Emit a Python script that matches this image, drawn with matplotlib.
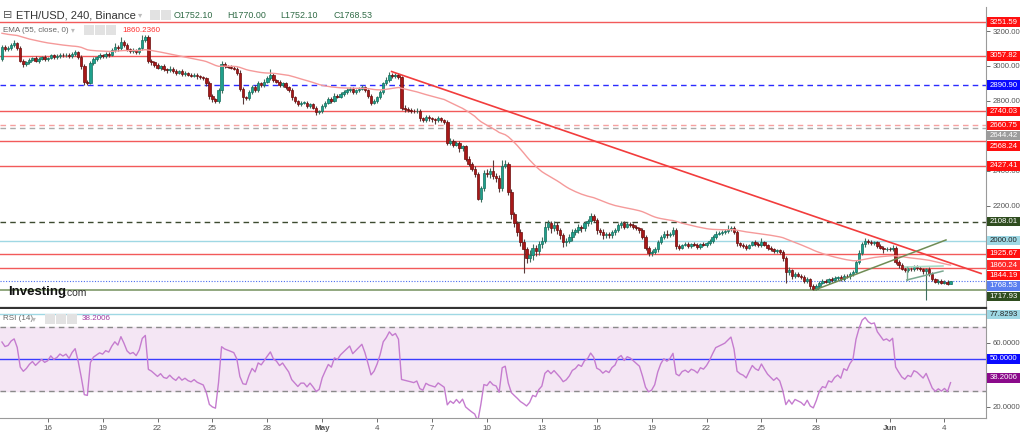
import numpy as np
import pandas as pd
import matplotlib
matplotlib.use('Agg')
import matplotlib.pyplot as plt
import matplotlib.dates as mdates
from matplotlib.patches import Rectangle

plt.rcParams['font.family'] = ['Liberation Sans', 'DejaVu Sans']

# 4h candles ETH/USD (Binance), first candle 13 Apr 12:00
start = '2022-04-13 12:00'
first_open = 3040.0
closes = [
    3110, 3095, 3100,                              # Apr 13
    3120, 3130, 3105, 3030, 3010, 3020,            # Apr 14
    3035, 3045, 3030, 3040, 3050, 3040,            # Apr 15
    3045, 3060, 3050, 3055, 3065, 3060,            # Apr 16
    3065, 3055, 3070, 3080, 3050, 3000,            # Apr 17
    2910, 2905, 3015, 3040, 3050, 3060,            # Apr 18
    3055, 3070, 3065, 3090, 3110, 3100,            # Apr 19
    3140, 3120, 3095, 3085, 3090, 3080,            # Apr 20
    3100, 3150, 3165, 3030, 3020, 3005,            # Apr 21
    2990, 3000, 2980, 2975, 2985, 2970,            # Apr 22
    2960, 2970, 2955, 2960, 2950, 2945,            # Apr 23
    2950, 2940, 2935, 2930, 2900, 2830,            # Apr 24
    2810, 2800, 2860, 3010, 3000, 2995,            # Apr 25
    2990, 2985, 2960, 2870, 2820, 2815,            # Apr 26
    2850, 2880, 2860, 2900, 2890, 2910,            # Apr 27
    2930, 2950, 2920, 2910, 2890, 2900,            # Apr 28
    2880, 2860, 2820, 2800, 2780, 2790,            # Apr 29
    2790, 2770, 2780, 2760, 2735, 2740,            # Apr 30
    2770, 2790, 2810, 2800, 2830, 2825,            # May 1
    2840, 2850, 2860, 2870, 2850, 2860,            # May 2
    2870, 2880, 2860, 2830, 2790, 2800,            # May 3
    2820, 2850, 2900, 2920, 2950, 2940,            # May 4
    2950, 2935, 2760, 2755, 2750, 2745,            # May 5
    2740, 2745, 2700, 2690, 2710, 2700,            # May 6
    2695, 2690, 2700, 2690, 2680, 2560,            # May 7
    2570, 2550, 2560, 2530, 2540, 2470,            # May 8
    2440, 2410, 2380, 2240, 2300, 2390,            # May 9
    2380, 2400, 2370, 2360, 2300, 2430,            # May 10
    2440, 2280, 2150, 2100, 2050, 1990,            # May 11
    1950, 1900, 1920, 1960, 1940, 1980,            # May 12
    2000, 2080, 2100, 2070, 2090, 2060,            # May 13
    2030, 1990, 2000, 2020, 2050, 2060,            # May 14
    2080, 2070, 2100, 2110, 2140, 2120,            # May 15
    2060, 2050, 2030, 2040, 2030, 2050,            # May 16
    2060, 2090, 2100, 2080, 2095, 2090,            # May 17
    2080, 2070, 2060, 2020, 1960, 1930,            # May 18
    1935, 1950, 1990, 2020, 2040, 2030,            # May 19
    2040, 2060, 1970, 1960, 1975, 1980,            # May 20
    1970, 1980, 1975, 1965, 1980, 1975,            # May 21
    1985, 2000, 2020, 2040, 2045, 2050,            # May 22
    2055, 2065, 2075, 2050, 1985, 1975,            # May 23
    1970, 1960, 1975, 1990, 1980, 1975,            # May 24
    1990, 1975, 1960, 1950, 1940, 1945,            # May 25
    1935, 1900, 1820, 1830, 1800, 1810,            # May 26
    1800, 1790, 1770, 1780, 1740, 1725,            # May 27
    1740, 1760, 1770, 1765, 1780, 1775,            # May 28
    1785, 1790, 1780, 1800, 1795, 1810,            # May 29
    1820, 1880, 1930, 1980, 2000, 1990,            # May 30
    1985, 1990, 1970, 1960, 1950, 1955,            # May 31
    1950, 1960, 1880, 1860, 1840, 1830,            # Jun 1
    1840, 1835, 1850, 1845, 1835, 1825,            # Jun 2
    1835, 1810, 1780, 1765, 1770, 1760,            # Jun 3
    1765, 1752.10, 1768.53,                        # Jun 4
]
wick_hi = [
    10, 8, 12,
    10, 20, 8, 10, 12, 8,
    10, 8, 12, 10, 8, 10,
    8, 10, 8, 12, 10, 8,
    10, 8, 12, 10, 8, 10,
    12, 10, 15, 10, 8, 12,
    10, 12, 8, 10, 20, 10,
    25, 10, 12, 8, 10, 8,
    10, 30, 15, 12, 10, 8,
    12, 8, 10, 8, 12, 10,
    10, 8, 10, 12, 8, 10,
    8, 10, 8, 10, 8, 12,
    10, 8, 12, 20, 10, 8,
    12, 10, 8, 15, 10, 8,
    15, 12, 10, 12, 10, 15,
    10, 30, 10, 8, 12, 10,
    10, 8, 12, 10, 8, 10,
    10, 12, 8, 10, 8, 10,
    10, 8, 12, 10, 15, 10,
    12, 10, 15, 10, 8, 10,
    12, 10, 8, 10, 8, 12,
    10, 12, 10, 15, 15, 10,
    10, 12, 8, 15, 10, 8,
    10, 12, 8, 10, 12, 8,
    10, 8, 12, 10, 8, 10,
    15, 10, 12, 10, 8, 10,
    12, 10, 15, 12, 10, 15,
    20, 15, 60, 20, 15, 30,
    20, 10, 15, 12, 10, 15,
    20, 15, 25, 20, 15, 20,
    20, 25, 20, 15, 20, 15,
    15, 12, 15, 20, 15, 12,
    15, 12, 15, 12, 20, 15,
    12, 10, 15, 12, 10, 12,
    15, 12, 15, 10, 12, 10,
    10, 12, 10, 15, 10, 12,
    10, 15, 12, 10, 15, 20,
    10, 20, 12, 10, 8, 10,
    10, 8, 12, 10, 8, 10,
    10, 12, 10, 15, 12, 10,
    10, 25, 10, 8, 12, 10,
    10, 12, 8, 10, 12, 10,
    25, 10, 8, 10, 8, 10,
    10, 12, 15, 20, 10, 12,
    10, 8, 12, 10, 8, 10,
    10, 8, 12, 10, 8, 10,
    10, 8, 12, 10, 8, 10,
    10, 12, 15, 12, 15, 10,
    12, 10, 8, 10, 8, 10,
    10, 15, 10, 8, 10, 8,
    10, 12, 10, 12, 8, 10,
    10, 12, 10, 8, 10, 12,
    10, 8, 1.47,
]
wick_lo = [
    10, 12, 8,
    8, 10, 12, 10, 15, 10,
    10, 8, 10, 12, 8, 10,
    10, 8, 12, 10, 8, 10,
    8, 10, 8, 12, 10, 15,
    20, 15, 10, 8, 10, 8,
    10, 8, 12, 10, 8, 12,
    8, 10, 12, 10, 8, 10,
    10, 8, 10, 15, 12, 10,
    10, 12, 10, 15, 10, 12,
    10, 8, 12, 10, 8, 10,
    10, 12, 8, 10, 15, 20,
    15, 10, 10, 12, 10, 8,
    10, 8, 12, 15, 40, 10,
    10, 12, 10, 8, 12, 10,
    10, 12, 10, 8, 10, 12,
    10, 8, 12, 10, 12, 10,
    10, 12, 10, 8, 15, 10,
    10, 8, 10, 12, 8, 10,
    10, 12, 8, 10, 12, 10,
    10, 8, 10, 12, 15, 10,
    12, 10, 8, 10, 12, 10,
    10, 8, 12, 20, 15, 12,
    10, 12, 15, 12, 10, 15,
    15, 20, 12, 10, 15, 12,
    12, 15, 10, 20, 15, 12,
    15, 12, 15, 10, 20, 15,
    15, 20, 15, 25, 20, 15,
    15, 20, 25, 20, 25, 20,
    135, 30, 25, 30, 25, 20,
    20, 15, 20, 25, 15, 20,
    20, 25, 20, 15, 20, 15,
    15, 20, 12, 15, 12, 15,
    20, 15, 20, 12, 15, 12,
    15, 12, 15, 12, 10, 12,
    12, 10, 15, 12, 15, 20,
    15, 12, 15, 10, 12, 15,
    10, 12, 15, 12, 10, 8,
    10, 12, 8, 12, 10, 8,
    10, 8, 12, 10, 8, 10,
    12, 10, 8, 10, 15, 10,
    10, 12, 10, 8, 10, 12,
    10, 8, 12, 10, 12, 10,
    10, 15, 60, 15, 20, 12,
    10, 12, 15, 10, 15, 7,
    10, 12, 8, 10, 12, 10,
    10, 8, 12, 10, 8, 12,
    10, 8, 12, 10, 15, 12,
    12, 10, 12, 10, 20, 10,
    10, 8, 12, 15, 10, 12,
    12, 10, 8, 12, 10, 15,
    165, 12, 10, 8, 12, 10,
    10, 8, 0,
]

ema_span = 55
ema_seed = 3190.0
rsi_period = 14
rsi_seed_gain = 10.0
rsi_seed_loss = 10.0

# horizontal levels
level_vals = [3251.59, 3057.82, 2890.90, 2740.03, 2660.75, 2644.42, 2568.24,
              2427.41, 2108.01, 2000.00, 1925.67, 1844.19, 1717.93]
level_kind = ['res', 'res', 'blue', 'res', 'resdash', 'greydash', 'res',
              'res', 'olivedash', 'cyan', 'res', 'res', 'olive']
last_price = 1768.53
ema_label = 1860.24
rsi_levels = [77.8293, 50.0, 38.2006]
price_ticks = [2200, 2400, 2800, 3000, 3200]
rsi_ticks = [20, 60]

# drawn trendlines (time, price)
red_trend = [('2022-05-04 19:00', 2968), ('2022-06-06 00:00', 1812)]
green_trend = [('2022-05-27 22:00', 1718), ('2022-06-04 02:00', 2004)]
flag_top = [('2022-06-01 20:00', 1849), ('2022-06-03 22:00', 1855)]
flag_bot = [('2022-06-01 22:40', 1775), ('2022-06-03 22:00', 1826)]

tick_dates = ['2022-04-16', '2022-04-19', '2022-04-22', '2022-04-25', '2022-04-28',
              '2022-05-01', '2022-05-04', '2022-05-07', '2022-05-10', '2022-05-13',
              '2022-05-16', '2022-05-19', '2022-05-22', '2022-05-25', '2022-05-28',
              '2022-06-01', '2022-06-04']
tick_labels = ['16', '19', '22', '25', '28', 'May', '4', '7', '10', '13',
               '16', '19', '22', '25', '28', 'Jun', '4']

# ---- build OHLC
times = pd.date_range(start, periods=len(closes), freq='4h')
x = mdates.date2num(times)
c = np.array(closes, dtype=float)
o = np.r_[first_open, c[:-1]]
h = np.maximum(o, c) + np.array(wick_hi)
l = np.minimum(o, c) - np.array(wick_lo)

# EMA
alpha = 2 / (ema_span + 1)
ema = np.empty_like(c)
prev = ema_seed
for i, v in enumerate(c):
    prev = alpha * v + (1 - alpha) * prev
    ema[i] = prev

# RSI (Wilder)
d = np.diff(np.r_[first_open, c])
ag, al = rsi_seed_gain, rsi_seed_loss
rsi = np.empty_like(c)
for i, v in enumerate(d):
    ag = (ag * (rsi_period - 1) + max(v, 0)) / rsi_period
    al = (al * (rsi_period - 1) + max(-v, 0)) / rsi_period
    rsi[i] = 100 - 100 / (1 + ag / al)

W, H = 1024, 432
fig = plt.figure(figsize=(W / 100, H / 100), dpi=100)
fig.patch.set_facecolor('white')
ax = fig.add_axes([0, 1 - 308 / H, 986 / W, (308 - 7) / H])
rax = fig.add_axes([0, 1 - 418 / H, 986 / W, (418 - 309) / H])

x0 = mdates.date2num(pd.Timestamp('2022-04-16'))
xlim = (x0 - 2.607, x0 + 51.27)

# candles
up = c >= o
ax.vlines(x, l, h, color=np.where(up, '#3f6f5f', '#5a3a3a'), lw=0.8, zorder=3)
bw = 4 / 24 * 0.8
ax.bar(x, np.where(np.abs(c - o) < 1, 1, c - o), bottom=o, width=bw,
       color=np.where(up, '#1fa08c', '#a81818'), edgecolor=np.where(up, '#15705f', '#6d0c0c'),
       linewidth=0.5, zorder=4)

# levels
styles = {
    'res': dict(color='#f25a5a', lw=1.0, ls='-'),
    'resdash': dict(color='#f5a0a0', lw=1.0, ls=(0, (4, 3))),
    'greydash': dict(color='#aaaaaa', lw=1.0, ls=(0, (4, 3))),
    'blue': dict(color='#2b2bff', lw=1.0, ls=(0, (4, 3))),
    'olivedash': dict(color='#3d4a30', lw=1.0, ls=(0, (4, 3))),
    'cyan': dict(color='#9fd8e4', lw=1.0, ls='-'),
    'olive': dict(color='#7f9a6a', lw=1.2, ls='-'),
}
for v, k in zip(level_vals, level_kind):
    ax.axhline(v, zorder=2, **styles[k])
ax.axhline(last_price, color='#4a6cf0', lw=0.8, ls=(0, (1, 1.5)), zorder=2)

ax.plot(x, ema, color='#f59a9a', lw=1.0, zorder=5)


def seg(pts, **kw):
    xs = [mdates.date2num(pd.Timestamp(t)) for t, _ in pts]
    ys = [p for _, p in pts]
    ax.plot(xs, ys, zorder=6, **kw)


seg(red_trend, color='#f23c3c', lw=1.2)
seg(green_trend, color='#6f8c55', lw=1.1)
seg(flag_top, color='#a8dcc8', lw=1.2)
seg(flag_bot, color='#7aa890', lw=1.1)
ax.plot([mdates.date2num(pd.Timestamp(flag_bot[0][0]))] * 2, [flag_bot[0][1], flag_top[0][1]],
        color='#7aa890', lw=1.0, zorder=6)

ax.set_xlim(*xlim)
ax.set_ylim(1614.5, 3337.5)
ax.yaxis.tick_right()
ax.set_yticks(price_ticks)
ax.yaxis.set_major_formatter(matplotlib.ticker.FormatStrFormatter('%.2f'))
ax.tick_params(axis='y', labelsize=5.6, colors='#555555', length=3, width=0.6, pad=1.5)
ax.tick_params(axis='x', bottom=False, labelbottom=False)
for s in ['left', 'top']:
    ax.spines[s].set_visible(False)
ax.spines['right'].set_color('#9a9a9a')
ax.spines['bottom'].set_color('#333333')
ax.spines['bottom'].set_linewidth(1.6)

# RSI panel
rax.axhspan(30, 70, color='#f4e6f4', zorder=0)
rax.axhline(70, color='#8a8a8a', lw=1.0, ls=(0, (4, 3)))
rax.axhline(30, color='#8a8a8a', lw=1.0, ls=(0, (4, 3)))
rax.axhline(50, color='#3b3bff', lw=1.0)
rax.axhline(rsi_levels[0], color='#9fd8e4', lw=1.0)
rax.plot(x, rsi, color='#c57ccf', lw=1.0, zorder=3)
rax.set_xlim(*xlim)
rax.set_ylim(13.1, 81.25)
rax.yaxis.tick_right()
rax.set_yticks(rsi_ticks)
rax.yaxis.set_major_formatter(matplotlib.ticker.FormatStrFormatter('%.4f'))
rax.tick_params(axis='y', labelsize=5.6, colors='#555555', length=3, width=0.6, pad=1.5)
rax.set_xticks([mdates.date2num(pd.Timestamp(t)) for t in tick_dates])
rax.set_xticklabels(tick_labels)
rax.tick_params(axis='x', labelsize=5.8, colors='#555555', length=3, width=0.6, pad=2)
for lab in rax.get_xticklabels():
    if lab.get_text() in ('May', 'Jun'):
        lab.set_fontweight('bold')
for s in ['left', 'top']:
    rax.spines[s].set_visible(False)
rax.spines['right'].set_color('#9a9a9a')
rax.spines['bottom'].set_color('#9a9a9a')


# right-hand price tags, stacked so they do not overlap
def tags(axis, items, fmt, box_h=10.4):
    last = 1e9
    for v, bg, fg in items:
        ypx = axis.transData.transform((0, v))[1]
        if last - ypx < box_h:
            ypx = last - box_h
        last = ypx
        fig.add_artist(Rectangle((987 / W, (ypx - box_h / 2 + 0.5) / H), 33 / W, (box_h - 1) / H,
                                 transform=fig.transFigure, facecolor=bg, edgecolor='none', zorder=5))
        fig.text(1003.5 / W, ypx / H, fmt % v, ha='center', va='center', fontsize=5.6,
                 color=fg, zorder=6)


kind_bg = {'res': '#ff1010', 'resdash': '#ff1010', 'greydash': '#9c9c9c', 'blue': '#0a0aff',
           'olivedash': '#2f4d1f', 'cyan': '#9fd8e4', 'olive': '#2f4d1f'}
items = [(v, kind_bg[k], '#222222' if k == 'cyan' else 'white') for v, k in zip(level_vals, level_kind)]
items += [(ema_label, '#ff2a2a', 'white'), (last_price, '#5a7ff0', 'white')]
items.sort(key=lambda t: -t[0])
tags(ax, items, '%.2f')
tags(rax, [(rsi_levels[0], '#9fd8e4', '#222222'), (rsi_levels[1], '#0a0aff', 'white'),
           (rsi_levels[2], '#8b0a8b', 'white')], '%.4f')


# header texts
def ftxt(px, py, s, **kw):
    fig.text(px / W, 1 - py / H, s, va='center', **kw)


def icons(px, py, n):
    for i in range(n):
        fig.add_artist(Rectangle(((px + i * 11) / W, 1 - (py + 5) / H), 9.5 / W, 10 / H,
                                 transform=fig.transFigure, facecolor='#e2e2e2',
                                 edgecolor='none', zorder=5))


ftxt(3, 15, '\u229f', fontsize=8, color='#555555', family=['DejaVu Sans'])
ftxt(16, 15, 'ETH/USD, 240, Binance', fontsize=8, color='#333333')
ftxt(138, 15, '\u25be', fontsize=6, color='#bbbbbb', family=['DejaVu Sans'])
icons(150, 15, 2)
for px, s in [(174, 'O1752.10'), (227, 'H1770.00'), (280, 'L1752.10'), (334, 'C1768.53')]:
    ftxt(px, 15, s, fontsize=6.4, color='#2f6a45')
ftxt(3, 30, 'EMA (55, close, 0)', fontsize=5.8, color='#666666')
ftxt(71, 30, '\u25be', fontsize=5.5, color='#bbbbbb', family=['DejaVu Sans'])
icons(84, 30, 3)
ftxt(122, 30, '1860.2360', fontsize=5.8, color='#ff3030')
ftxt(3, 319, 'RSI (14)', fontsize=5.8, color='#666666')
ftxt(32, 319, '\u25be', fontsize=5.5, color='#bbbbbb', family=['DejaVu Sans'])
icons(45, 319, 3)
ftxt(82, 319, '38.2006', fontsize=5.8, color='#a03aa0')
ftxt(8, 292, 'Investing', fontsize=9.5, fontweight='bold', color='#111111')
ftxt(64, 293, '.com', fontsize=7.5, color='#333333')

fig.savefig('out.png', dpi=100)
